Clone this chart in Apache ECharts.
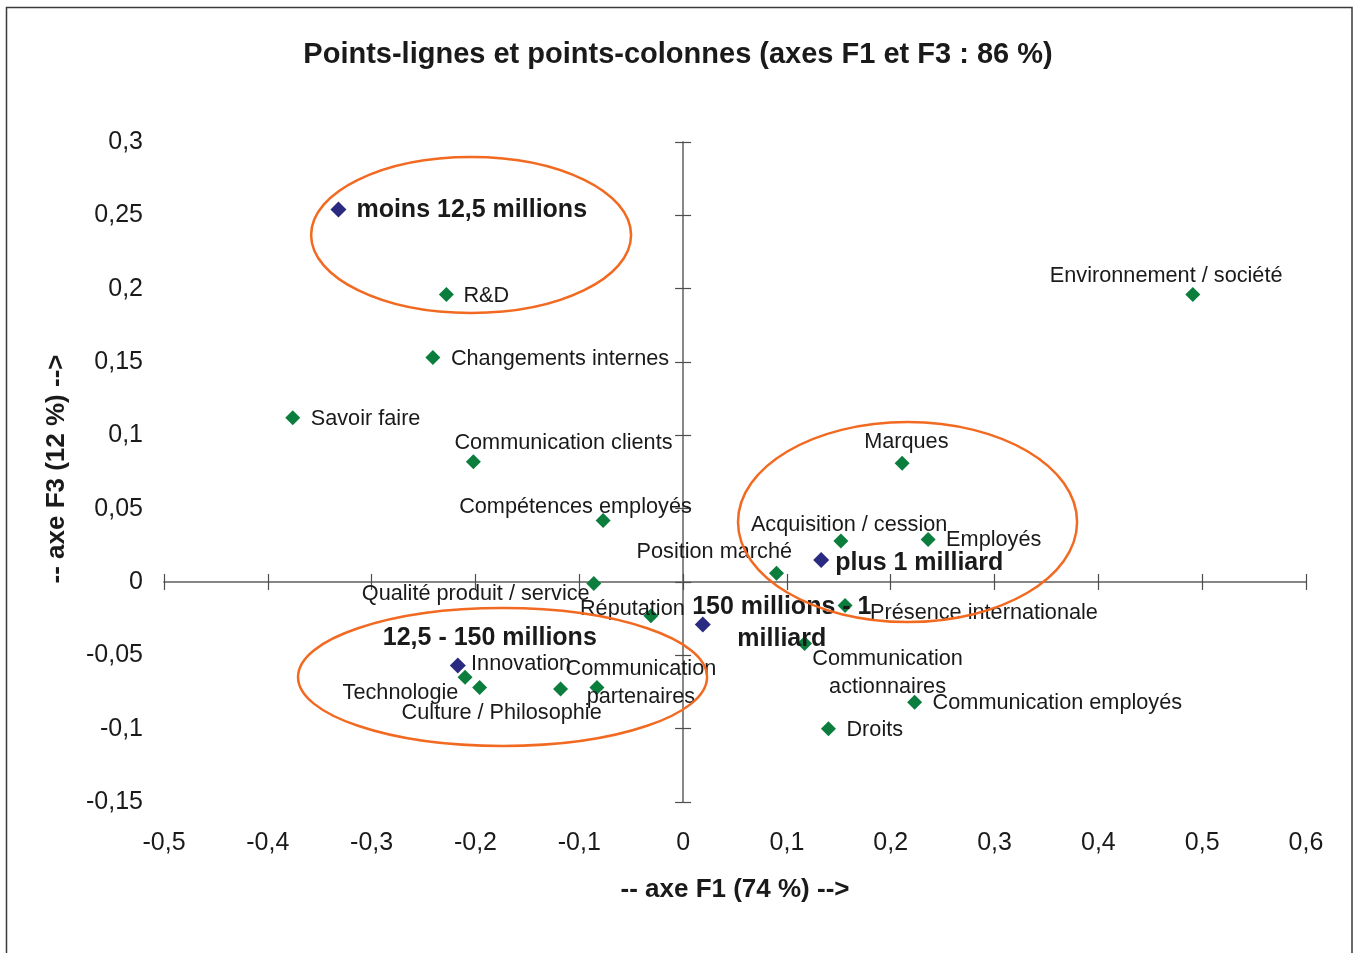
<!DOCTYPE html>
<html>
<head>
<meta charset="utf-8">
<script src="https://cdn.jsdelivr.net/npm/echarts@6/dist/echarts.min.js"></script>
<style>
html,body{margin:0;padding:0;background:#fff;}
#chart{width:1356px;height:953px;}
</style>
</head>
<body>
<div id="chart"></div>
<script>
// ---- Data ----
const titleText = 'Points-lignes et points-colonnes (axes F1 et F3 : 86 %)';
const xAxisName = '-- axe F1 (74 %) -->';
const yAxisName = '-- axe F3 (12 %) -->';

// Column points (company size)
const colNames = ['moins 12,5 millions', '12,5 - 150 millions', '150 millions - 1\nmilliard', 'plus 1 milliard'];
const colX = [-0.332, -0.217, 0.019, 0.133];
const colY = [0.254, -0.057, -0.029, 0.015];

// Row points (themes)
const rowNames = ['R&D', 'Changements internes', 'Savoir faire', 'Communication clients',
  'Compétences employés', 'Qualité produit / service', 'Réputation', 'Position marché',
  'Acquisition / cession', 'Employés', 'Marques', 'Présence internationale',
  'Communication\nactionnaires', 'Communication employés', 'Droits', 'Environnement / société',
  'Innovation', 'Technologie', 'Culture / Philosophie', 'Communication\npartenaires'];
const rowX = [-0.228, -0.241, -0.376, -0.202, -0.077, -0.086, -0.031, 0.090,
  0.152, 0.236, 0.211, 0.156, 0.117, 0.223, 0.140, 0.491,
  -0.210, -0.196, -0.118, -0.083];
const rowY = [0.196, 0.153, 0.112, 0.082, 0.042, -0.001, -0.023, 0.006,
  0.028, 0.029, 0.081, -0.016, -0.042, -0.082, -0.100, 0.196,
  -0.065, -0.072, -0.073, -0.072];

// Axis ranges
const xMin = -0.5, xMax = 0.6, xStep = 0.1;
const yMin = -0.15, yMax = 0.3, yStep = 0.05;

// Highlight ellipses (data units: centre x, centre y, radius x, radius y)
const ellipses = [
  [-0.2042, 0.2366, 0.1541, 0.0532],
  [0.2162, 0.0409, 0.1633, 0.0682],
  [-0.1739, -0.0648, 0.1970, 0.0470]
];

// ---- Label layout (style only) ----
const labelLayout = {
  'moins 12,5 millions': [18, 1, 'left'],
  '12,5 - 150 millions': [-75, -27, 'left'],
  '150 millions - 1\nmilliard': [79, -1, 'center'],
  'plus 1 milliard': [14, 3, 'left'],
  'R&D': [17, 1, 'left'],
  'Changements internes': [18, 1, 'left'],
  'Savoir faire': [18, 1, 'left'],
  'Communication clients': [-19, -19, 'left'],
  'Compétences employés': [-144, -13, 'left'],
  'Qualité produit / service': [-232, 11, 'left'],
  'Réputation': [-71, -7, 'left'],
  'Position marché': [-140, -21, 'left'],
  'Acquisition / cession': [-90, -16, 'left'],
  'Employés': [18, 1, 'left'],
  'Marques': [-38, -21, 'left'],
  'Présence internationale': [25, 8, 'left'],
  'Communication\nactionnaires': [83, 29, 'center'],
  'Communication employés': [18, 1, 'left'],
  'Droits': [18, 1, 'left'],
  'Environnement / société': [-143, -19, 'left'],
  'Innovation': [6, -13, 'left'],
  'Technologie': [-137, 5, 'left'],
  'Culture / Philosophie': [-159, 24, 'left'],
  'Communication\npartenaires': [44, -5, 'center']
};

const FONT = '"Liberation Sans", Arial, Helvetica, sans-serif';
const TXT = '#1a1a1a';

function fmt(v) {
  return (Math.round(v * 100) / 100).toString().replace('.', ',');
}

function buildData(names, xs, ys, bold) {
  return names.map((n, i) => {
    const l = labelLayout[n] || [16, 0, 'left'];
    return {
      name: n,
      value: [xs[i], ys[i]],
      label: {
        show: true,
        position: 'inside',
        align: l[2],
        verticalAlign: 'middle',
        offset: [l[0], l[1]],
        formatter: '{b}',
        fontFamily: FONT,
        fontSize: bold ? 25 : 21.7,
        fontWeight: bold ? 'bold' : 'normal',
        color: TXT,
        lineHeight: bold ? 32 : 28
      }
    };
  });
}

const chart = echarts.init(document.getElementById('chart'), null, { renderer: 'canvas' });

const baseX = { type: 'value', min: xMin, max: xMax, interval: xStep, splitLine: { show: false } };
const baseY = { type: 'value', min: yMin, max: yMax, interval: yStep, splitLine: { show: false } };
const lineStyle = { color: '#7f7f7f', width: 1.5 };
const tickStyle = { color: '#4d4d4d', width: 1.2 };

const option = {
  backgroundColor: '#fff',
  animation: false,
  title: {
    text: titleText,
    left: 'center',
    top: 35,
    textStyle: { fontFamily: FONT, fontSize: 29, fontWeight: 'bold', color: TXT }
  },
  grid: { left: 164, right: 50, top: 142, bottom: 151, containLabel: false },
  xAxis: [
    Object.assign({}, baseX, {
      position: 'bottom',
      axisLine: { show: false, onZero: false },
      axisTick: { show: false },
      axisLabel: { fontFamily: FONT, fontSize: 25, color: TXT, margin: 29, formatter: fmt },
      name: xAxisName,
      nameLocation: 'middle',
      nameGap: 75,
      nameTextStyle: { fontFamily: FONT, fontSize: 26, fontWeight: 'bold', color: TXT }
    }),
    Object.assign({}, baseX, {
      position: 'bottom',
      axisLine: { show: true, onZero: true, onZeroAxisIndex: 1, lineStyle: lineStyle },
      axisTick: { show: true, inside: false, length: 8, lineStyle: tickStyle },
      axisLabel: { show: false }
    }),
    Object.assign({}, baseX, {
      position: 'top',
      axisLine: { show: true, onZero: true, onZeroAxisIndex: 1, lineStyle: lineStyle },
      axisTick: { show: true, inside: false, length: 8, lineStyle: tickStyle },
      axisLabel: { show: false }
    })
  ],
  yAxis: [
    Object.assign({}, baseY, {
      position: 'left',
      axisLine: { show: false, onZero: false },
      axisTick: { show: false },
      axisLabel: { fontFamily: FONT, fontSize: 25, color: TXT, margin: 21, formatter: fmt,
        padding: [4, 0, 0, 0] },
      name: yAxisName,
      nameLocation: 'middle',
      nameGap: 94,
      nameRotate: 90,
      nameTextStyle: { fontFamily: FONT, fontSize: 26, fontWeight: 'bold', color: TXT,
        padding: [0, 0, 0, 6] }
    }),
    Object.assign({}, baseY, {
      position: 'left',
      axisLine: { show: true, onZero: true, onZeroAxisIndex: 1, lineStyle: lineStyle },
      axisTick: { show: true, inside: false, length: 8, lineStyle: tickStyle },
      axisLabel: { show: false }
    }),
    Object.assign({}, baseY, {
      position: 'right',
      axisLine: { show: true, onZero: true, onZeroAxisIndex: 1, lineStyle: lineStyle },
      axisTick: { show: true, inside: false, length: 8, lineStyle: tickStyle },
      axisLabel: { show: false }
    })
  ],
  series: [
    {
      name: 'Lignes',
      type: 'scatter',
      xAxisIndex: 0, yAxisIndex: 0,
      symbol: 'diamond',
      symbolSize: 15,
      itemStyle: { color: '#0b7e3e', opacity: 1 },
      data: buildData(rowNames, rowX, rowY, false),
      z: 3
    },
    {
      name: 'Colonnes',
      type: 'scatter',
      xAxisIndex: 0, yAxisIndex: 0,
      symbol: 'diamond',
      symbolSize: 16,
      itemStyle: { color: '#2a2a80', opacity: 1 },
      data: buildData(colNames, colX, colY, true),
      z: 4
    }
  ]
};

chart.setOption(option);

// Frame and ellipses (ellipses positioned from data coordinates)
const graphics = [{
  type: 'rect',
  shape: { x: 6.5, y: 7.5, width: 1345.5, height: 960 },
  style: { fill: 'none', stroke: '#3a3a3a', lineWidth: 1.5 },
  z: 0, silent: true
}];
ellipses.forEach(e => {
  const c = chart.convertToPixel({ gridIndex: 0 }, [e[0], e[1]]);
  const px = chart.convertToPixel({ gridIndex: 0 }, [e[0] + e[2], e[1] + e[3]]);
  graphics.push({
    type: 'ellipse',
    shape: { cx: c[0], cy: c[1], rx: Math.abs(px[0] - c[0]), ry: Math.abs(px[1] - c[1]) },
    style: { fill: 'none', stroke: '#f26a21', lineWidth: 2.5 },
    z: 10, silent: true
  });
});
chart.setOption({ graphic: graphics });
</script>
</body>
</html>
